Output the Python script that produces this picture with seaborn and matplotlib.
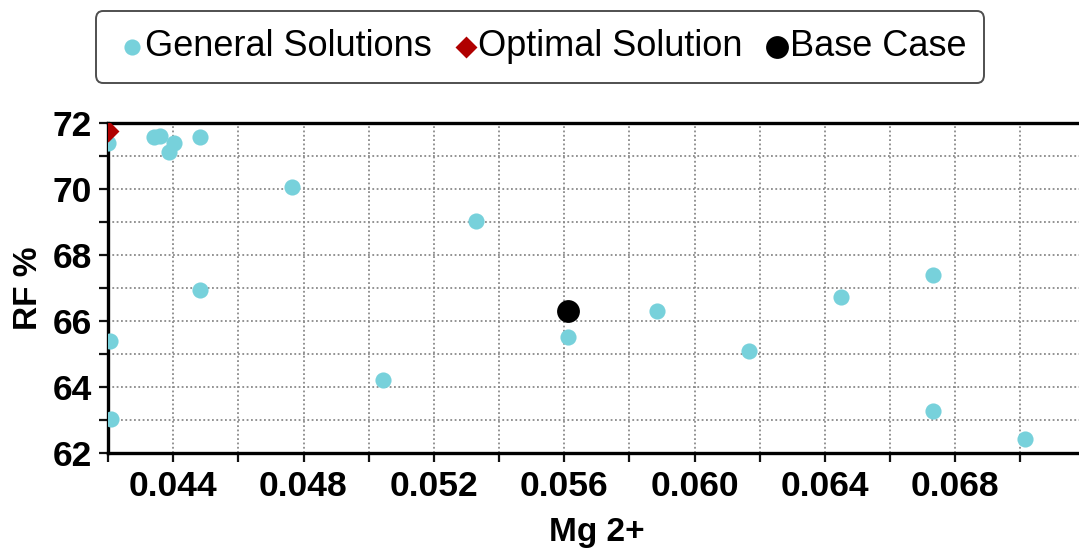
import matplotlib
matplotlib.use("Agg")
import matplotlib.pyplot as plt
from matplotlib.ticker import MultipleLocator, FixedLocator
import seaborn as sns
import pandas as pd

# General solutions (Mg 2+ vs RF %)
general_mg = [0.04200, 0.04341, 0.04360, 0.04388, 0.04404, 0.04482, 0.04766,
              0.05329, 0.04482, 0.04206, 0.04210, 0.05044, 0.05611, 0.05886,
              0.06167, 0.06450, 0.06733, 0.06733, 0.07014]
general_rf = [71.38, 71.56, 71.60, 71.12, 71.38, 71.56, 70.06,
              69.02, 66.93, 65.39, 63.02, 64.21, 65.50, 66.30,
              65.10, 66.73, 67.39, 63.27, 62.42]

optimal_mg = [0.04200]
optimal_rf = [71.75]

base_mg = [0.05611]
base_rf = [66.30]

x_major = [0.044, 0.048, 0.052, 0.056, 0.060, 0.064, 0.068]
x_labels = ["0.044", "0.048", "0.052", "0.056", "0.060", "0.064", "0.068"]
y_major = [62, 64, 66, 68, 70, 72]

sns.set_theme(style="white")
plt.rcParams["font.family"] = ["Liberation Sans", "DejaVu Sans"]
plt.rcParams["text.color"] = "black"
plt.rcParams["axes.labelcolor"] = "black"
plt.rcParams["xtick.color"] = "black"
plt.rcParams["ytick.color"] = "black"

W, H = 1079, 555
fig = plt.figure(figsize=(W / 100, H / 100), dpi=100)
left, right, top, bottom = 108, 1085.5, 122.7, 453
ax = fig.add_axes([left / W, (H - bottom) / H, (right - left) / W, (bottom - top) / H])

gen = pd.DataFrame({"mg": general_mg, "rf": general_rf})
opt = pd.DataFrame({"mg": optimal_mg, "rf": optimal_rf})
base = pd.DataFrame({"mg": base_mg, "rf": base_rf})

sns.scatterplot(data=gen, x="mg", y="rf", ax=ax, color="#77D1DB", s=135,
                linewidth=0, marker="o", label="General Solutions", zorder=3)
sns.scatterplot(data=base, x="mg", y="rf", ax=ax, color="black", s=270,
                linewidth=0, marker="o", label="Base Case", zorder=4)
sns.scatterplot(data=opt, x="mg", y="rf", ax=ax, color="#B00000", s=125,
                linewidth=0, marker="D", label="Optimal Solution", zorder=5)

handles, labels = ax.get_legend_handles_labels()
if ax.get_legend() is not None:
    ax.get_legend().remove()

ax.set_xlim(0.042, 0.072)
ax.set_ylim(62, 72)

ax.xaxis.set_major_locator(FixedLocator(x_major))
ax.set_xticklabels(x_labels)
ax.xaxis.set_minor_locator(MultipleLocator(0.002))
ax.yaxis.set_major_locator(FixedLocator(y_major))
ax.yaxis.set_minor_locator(MultipleLocator(1))

grid_kw = dict(color="#8a8a8a", linestyle=(0, (1, 1.4)), linewidth=1.3)
ax.grid(True, which="both", **grid_kw)
ax.set_axisbelow(True)

ax.tick_params(axis="both", which="both", direction="out", length=6.5,
               width=1.6, color="#111111", bottom=True, left=True)
ax.tick_params(axis="x", which="major", pad=6, labelsize=25.5)
ax.tick_params(axis="y", which="major", pad=5, labelsize=25.5)
for lab in ax.get_xticklabels() + ax.get_yticklabels():
    lab.set_fontweight("bold")

for side in ["left", "bottom", "top"]:
    ax.spines[side].set_visible(True)
    ax.spines[side].set_color("black")
    ax.spines[side].set_linewidth(2.4)
ax.spines["right"].set_visible(False)

ax.set_xlabel("Mg 2+", fontsize=24, fontweight="bold", labelpad=10)
ax.set_ylabel("RF %", fontsize=24, fontweight="bold", labelpad=6)

order = [labels.index(n) for n in ["General Solutions", "Optimal Solution", "Base Case"]]
leg = fig.legend([handles[i] for i in order], [labels[i] for i in order],
                 loc="center", bbox_to_anchor=(540 / W, 1 - 47 / H), ncol=3,
                 fontsize=26, frameon=True, fancybox=True, handletextpad=-0.15,
                 columnspacing=0.45, handlelength=1.0, borderpad=0.5,
                 markerscale=1.0)
frame = leg.get_frame()
frame.set_edgecolor("#222222")
frame.set_linewidth(1.4)
frame.set_boxstyle("round,pad=0,rounding_size=0.2")

fig.savefig("out.png", dpi=100)
